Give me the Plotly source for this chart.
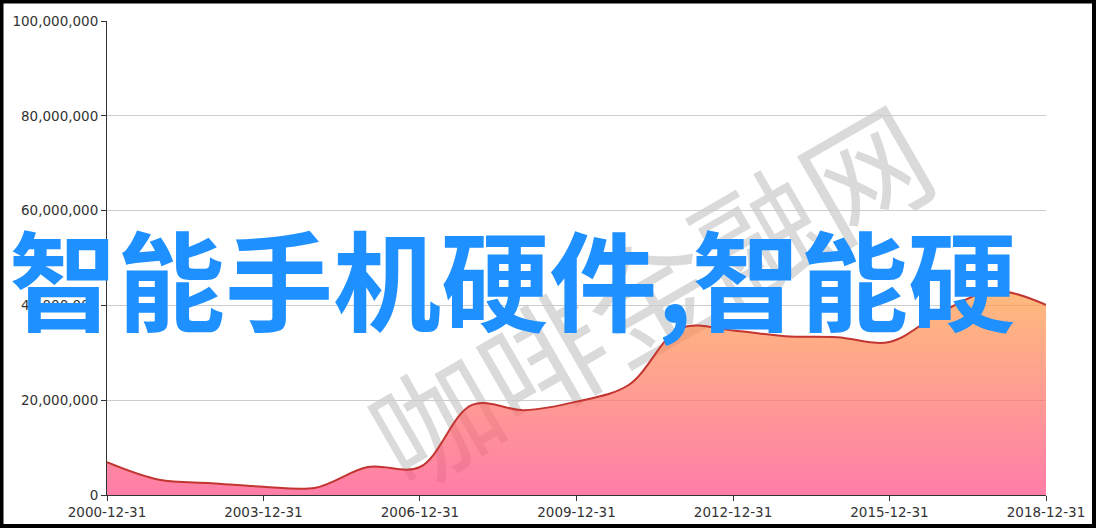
import plotly.graph_objects as go

# ---- data ----
dates = ["2000-12-31", "2001-12-31", "2002-12-31", "2003-12-31", "2004-12-31",
         "2005-12-31", "2006-12-31", "2007-12-31", "2008-12-31", "2009-12-31",
         "2010-12-31", "2011-12-31", "2012-12-31", "2013-12-31", "2014-12-31",
         "2015-12-31", "2016-12-31", "2017-12-31", "2018-12-31"]
values = [6.9e6, 3.2e6, 2.5e6, 1.75e6, 1.55e6,
          5.9e6, 5.9e6, 19.0e6, 17.9e6, 19.7e6,
          23.2e6, 35.2e6, 34.7e6, 33.5e6, 33.3e6,
          32.3e6, 38.6e6, 43.1e6, 40.1e6]
x_tick_vals = ["2000-12-31", "2003-12-31", "2006-12-31", "2009-12-31",
               "2012-12-31", "2015-12-31", "2018-12-31"]
y_tick_vals = [0, 20000000, 40000000, 60000000, 80000000, 100000000]
y_tick_text = ["0", "20,000,000", "40,000,000", "60,000,000", "80,000,000", "100,000,000"]
title_text = "智能手机硬件,智能硬"
watermark_text = "咖啡金融网"

# ---- layout geometry (pixels) ----
W, H = 1096, 528
L, R, T, B = 107, 50, 21, 33
PW, PH = W - L - R, H - T - B


def px(x):
    return (x - L) / PW


def py(y):
    return (H - B - y) / PH


fig = go.Figure()
fig.add_trace(go.Scatter(
    x=dates, y=values, mode="lines",
    line=dict(color="#c23531", width=2, shape="spline", smoothing=1.0),
    fill="tozeroy",
    fillgradient=dict(
        type="vertical",
        colorscale=[[0, "rgba(255,70,131,0.7)"], [1, "rgba(255,158,68,0.7)"]],
        start=0, stop=max(values),
    ),
    hoverinfo="skip", showlegend=False,
))

tick_font = dict(family="DejaVu Sans", size=13.5, color="#333")

fig.update_layout(
    width=W, height=H,
    margin=dict(l=L, r=R, t=T, b=B, pad=0, autoexpand=False),
    paper_bgcolor="white", plot_bgcolor="rgba(0,0,0,0)",
    xaxis=dict(
        type="date", range=[dates[0], dates[-1]],
        tickvals=x_tick_vals, ticktext=x_tick_vals,
        ticks="outside", ticklen=5, tickcolor="#333", tickwidth=1,
        showline=True, linecolor="#333", linewidth=1,
        showgrid=False, zeroline=False, tickfont=tick_font,
        fixedrange=True, automargin=False,
    ),
    yaxis=dict(
        range=[0, 100000000],
        tickvals=y_tick_vals, ticktext=y_tick_text,
        ticks="outside", ticklen=5, tickcolor="#333", tickwidth=1,
        showline=True, linecolor="#333", linewidth=1,
        showgrid=True, gridcolor="#cccccc", gridwidth=1,
        zeroline=False, tickfont=tick_font,
        fixedrange=True, automargin=False,
    ),
    annotations=[
        dict(text=watermark_text, xref="paper", yref="paper",
             x=px(648), y=py(292), xanchor="center", yanchor="middle",
             showarrow=False, textangle=-30,
             font=dict(family="Noto Sans CJK SC", size=124, color="#dadada")),
        dict(text=title_text, xref="paper", yref="paper",
             x=px(512), y=py(276), xanchor="center", yanchor="middle",
             showarrow=False,
             font=dict(family="Noto Sans CJK SC", size=108, color="#1E90FF", weight="bold")),
    ],
    shapes=[
        dict(type="rect", xref="paper", yref="paper",
             x0=px(1.5), x1=px(1094), y0=py(526), y1=py(1.5),
             line=dict(color="black", width=4), fillcolor="rgba(0,0,0,0)",
             layer="above"),
    ],
)

post_js = """
document.body.style.margin='0';
document.body.style.overflow='hidden';
var gd = document.getElementById('{plot_id}');
var ann = gd.querySelector('g.annotation[data-index="0"]');
var cl = gd.querySelector('g.cartesianlayer');
if (ann && cl) { cl.parentNode.insertBefore(ann, cl); }
"""

fig.write_html("out.html", config={"displayModeBar": False}, post_script=post_js)
